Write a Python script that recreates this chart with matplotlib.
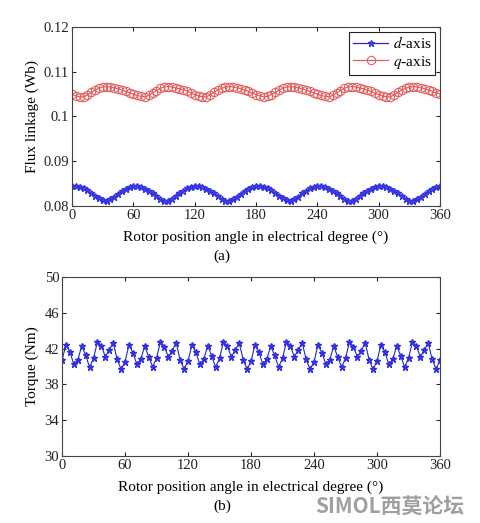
import matplotlib.pyplot as plt

plt.rcParams['font.family'] = ['Liberation Serif', 'DejaVu Serif']
plt.rcParams['mathtext.fontset'] = 'stix'
plt.rcParams['font.size'] = 11

# ── Datos ───────────────────────────────────────────────────────────────────
angulo = [i * 3.75 for i in range(97)]

flujo_d = [
    0.0844, 0.0844, 0.0843, 0.0840, 0.0835, 0.0829, 0.0823, 0.0817,
    0.0813, 0.0812, 0.0815, 0.0821, 0.0827, 0.0833, 0.0839, 0.0843,
    0.0845, 0.0844, 0.0843, 0.0839, 0.0834, 0.0828, 0.0822, 0.0816,
    0.0812, 0.0812, 0.0816, 0.0822, 0.0828, 0.0834, 0.0840, 0.0843,
    0.0844, 0.0844, 0.0842, 0.0839, 0.0834, 0.0828, 0.0822, 0.0816,
    0.0812, 0.0812, 0.0815, 0.0821, 0.0827, 0.0834, 0.0839, 0.0843,
    0.0845, 0.0844, 0.0843, 0.0840, 0.0835, 0.0829, 0.0823, 0.0817,
    0.0813, 0.0812, 0.0815, 0.0821, 0.0828, 0.0834, 0.0840, 0.0843,
    0.0844, 0.0844, 0.0843, 0.0839, 0.0834, 0.0828, 0.0822, 0.0816,
    0.0812, 0.0812, 0.0816, 0.0822, 0.0828, 0.0834, 0.0839, 0.0843,
    0.0845, 0.0844, 0.0842, 0.0839, 0.0834, 0.0828, 0.0822, 0.0816,
    0.0812, 0.0811, 0.0815, 0.0821, 0.0827, 0.0833, 0.0839, 0.0843,
    0.0844,
]

flujo_q = [
    0.1050, 0.1046, 0.1044, 0.1044, 0.1048, 0.1054, 0.1059, 0.1063,
    0.1066, 0.1067, 0.1066, 0.1064, 0.1062, 0.1059, 0.1056, 0.1053,
    0.1050, 0.1047, 0.1045, 0.1044, 0.1047, 0.1053, 0.1058, 0.1063,
    0.1066, 0.1067, 0.1066, 0.1064, 0.1062, 0.1060, 0.1057, 0.1053,
    0.1049, 0.1046, 0.1044, 0.1044, 0.1048, 0.1054, 0.1059, 0.1063,
    0.1066, 0.1067, 0.1066, 0.1064, 0.1062, 0.1059, 0.1056, 0.1052,
    0.1049, 0.1046, 0.1044, 0.1045, 0.1049, 0.1054, 0.1059, 0.1063,
    0.1066, 0.1067, 0.1066, 0.1064, 0.1062, 0.1059, 0.1056, 0.1053,
    0.1050, 0.1047, 0.1045, 0.1044, 0.1047, 0.1053, 0.1058, 0.1063,
    0.1066, 0.1067, 0.1066, 0.1064, 0.1062, 0.1059, 0.1056, 0.1052,
    0.1049, 0.1046, 0.1044, 0.1044, 0.1048, 0.1054, 0.1059, 0.1063,
    0.1066, 0.1067, 0.1066, 0.1064, 0.1062, 0.1059, 0.1056, 0.1053,
    0.1050,
]

par = [
    40.73, 42.40, 41.66, 40.25, 40.73, 42.29, 41.29, 39.91,
    40.92, 42.77, 42.29, 41.10, 41.85, 42.66, 40.81, 39.69,
    40.54, 42.40, 41.55, 40.25, 40.81, 42.29, 41.10, 39.99,
    40.92, 42.77, 42.22, 41.10, 41.77, 42.66, 40.73, 39.69,
    40.62, 42.40, 41.60, 40.25, 40.81, 42.33, 41.20, 39.95,
    40.92, 42.77, 42.25, 41.10, 41.80, 42.66, 40.78, 39.69,
    40.58, 42.40, 41.62, 40.25, 40.81, 42.29, 41.25, 39.93,
    40.92, 42.77, 42.29, 41.10, 41.85, 42.66, 40.81, 39.69,
    40.54, 42.40, 41.55, 40.25, 40.78, 42.29, 41.10, 39.95,
    40.92, 42.77, 42.22, 41.10, 41.77, 42.66, 40.73, 39.69,
    40.62, 42.40, 41.60, 40.25, 40.81, 42.33, 41.20, 39.95,
    40.92, 42.77, 42.25, 41.10, 41.80, 42.66, 40.81, 39.69,
    40.73,
]

xticks = [0, 60, 120, 180, 240, 300, 360]
yticks_flujo = [0.08, 0.09, 0.1, 0.11, 0.12]
ylabels_flujo = ["0.08", "0.09", "0.1", "0.11", "0.12"]
yticks_par = [30, 34, 38, 42, 46, 50]

XLABEL = "Rotor position angle in electrical degree (°)"


def estilo_ejes(ax):
    ax.tick_params(direction="in", top=True, right=True, length=3,
                   pad=2, colors="#222222", labelsize=10.5)
    for s in ax.spines.values():
        s.set_color("#444444")
        s.set_linewidth(0.8)


fig = plt.figure(figsize=(4.81, 5.23), dpi=100)

# ── (a) Flujo ───────────────────────────────────────────────────────────────
ax1 = fig.add_axes([0.1497, 0.6061, 0.7651, 0.3423])
ax1.plot(angulo, flujo_d, color="#2525c8", lw=0.9, marker="*", ms=5,
         mfc="#4a4af0", mec="#3535e0", label="$d$-axis")
ax1.plot(angulo, flujo_q, color="#e06060", lw=0.9, marker="o", ms=6,
         mfc="none", mec="#e06060", mew=0.8, label="$q$-axis")
ax1.set_xlim(0, 360)
ax1.set_ylim(0.08, 0.12)
ax1.set_xticks(xticks)
ax1.set_yticks(yticks_flujo)
ax1.set_yticklabels(ylabels_flujo)
ax1.set_xlabel(XLABEL, labelpad=0)
ax1.set_ylabel("Flux linkage (Wb)", labelpad=3)
estilo_ejes(ax1)
leg = ax1.legend(loc="upper right", fancybox=False, edgecolor="#222222",
                 framealpha=1, borderaxespad=0.3, handlelength=2.3,
                 handletextpad=0.3, borderpad=0.25, labelspacing=0.15,
                 fontsize=11)
leg.get_frame().set_linewidth(0.8)
fig.text(0.4615, 1 - 256 / 523, "(a)", ha="center", va="center", fontsize=11)

# ── (b) Par ─────────────────────────────────────────────────────────────────
ax2 = fig.add_axes([0.1289, 0.128, 0.7859, 0.3423])
ax2.plot(angulo, par, color="#2525c8", lw=0.8, marker="*", ms=5,
         mfc="#3a3ae8", mec="#3030e0")
ax2.set_xlim(0, 360)
ax2.set_ylim(30, 50)
ax2.set_xticks(xticks)
ax2.set_yticks(yticks_par)
ax2.set_xlabel(XLABEL, labelpad=0)
ax2.set_ylabel("Torque (Nm)", labelpad=4)
estilo_ejes(ax2)
fig.text(0.4615, 1 - 506 / 523, "(b)", ha="center", va="center", fontsize=11)

# el texto del eje x va más abajo, como en la figura original
ax1.xaxis.set_label_coords(0.5, -0.135)
ax2.xaxis.set_label_coords(0.5, -0.135)

# marca de agua
fig.text(0.965, 1 - 506 / 523, "SIMOL西莫论坛", ha="right", va="center",
         fontsize=15, color="#a0a0a0", fontweight="bold",
         family=["Noto Sans CJK SC", "DejaVu Sans"])

plt.savefig("out.png", dpi=100)
plt.close()
